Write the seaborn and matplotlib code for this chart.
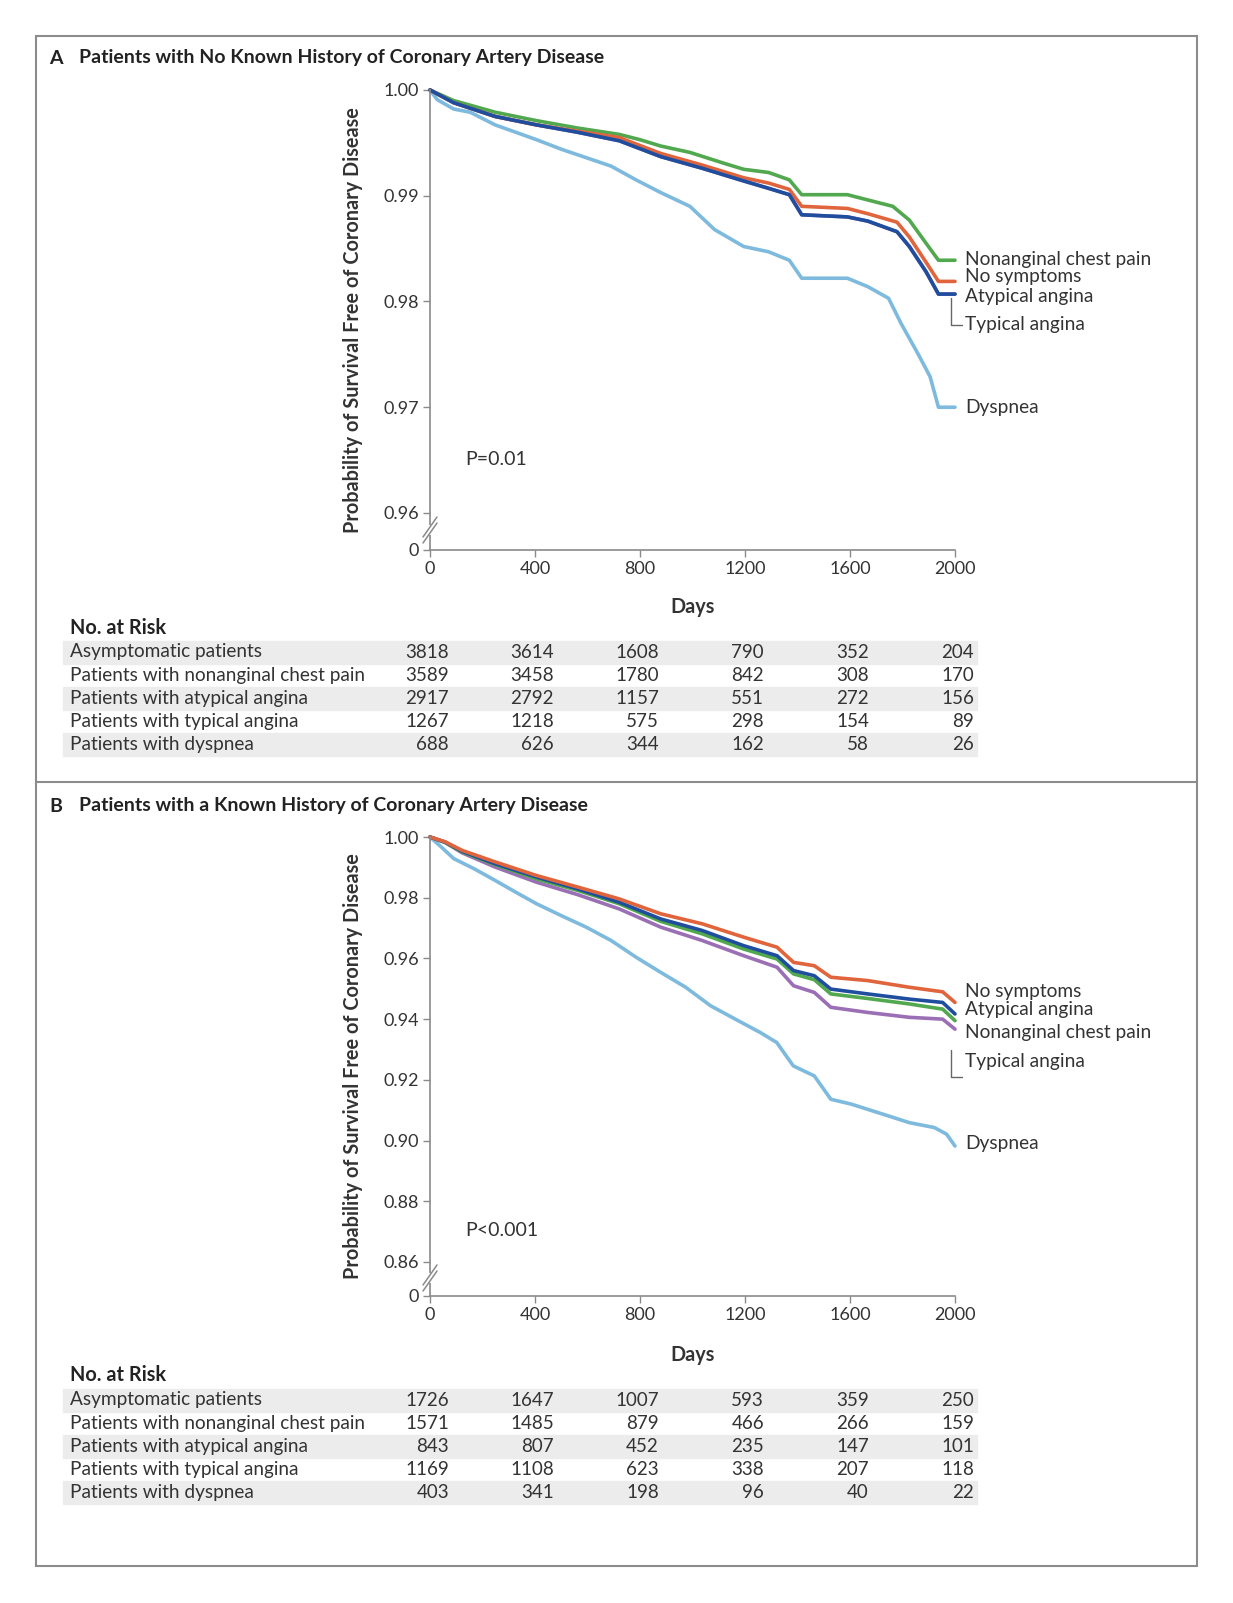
import pandas as pd
import matplotlib
matplotlib.use('Agg')
import matplotlib.pyplot as plt
import matplotlib.transforms as mtransforms
from matplotlib.patches import Rectangle
from matplotlib.lines import Line2D
import seaborn as sns

# ---- panel A curves (days, survival) ----
a_non_days = [0, 90, 248, 406, 563, 721, 800, 879, 990, 1116, 1195, 1290, 1369, 1416, 1590, 1668, 1763, 1826, 1890, 1937, 2000]
a_non_surv = [1.0, 0.9990, 0.9979, 0.9971, 0.9964, 0.9958, 0.9953, 0.9947, 0.9941, 0.9931, 0.9925, 0.9922, 0.9915, 0.9901,
              0.9901, 0.9896, 0.9890, 0.9877, 0.9855, 0.9839, 0.9839]
a_nosym_days = [0, 90, 248, 406, 563, 721, 879, 1037, 1195, 1290, 1369, 1416, 1590, 1668, 1779, 1826, 1890, 1937, 2000]
a_nosym_surv = [1.0, 0.9988, 0.9975, 0.9967, 0.9961, 0.9955, 0.9940, 0.9929, 0.9917, 0.9912, 0.9906, 0.9890, 0.9888,
                0.9883, 0.9875, 0.9861, 0.9837, 0.9819, 0.9819]
a_atyp_days = [0, 90, 248, 406, 563, 721, 879, 1037, 1195, 1290, 1369, 1416, 1590, 1668, 1779, 1826, 1890, 1937, 2000]
a_atyp_surv = [1.0, 0.9988, 0.9975, 0.9967, 0.9960, 0.9952, 0.9937, 0.9926, 0.9914, 0.9907, 0.9901, 0.9882, 0.9880,
               0.9876, 0.9866, 0.9852, 0.9828, 0.9807, 0.9807]
a_typ_days = [0, 90, 248, 406, 563, 721, 879, 1037, 1195, 1290, 1369, 1416, 1590, 1668, 1779, 1826, 1890, 1937, 2000]
a_typ_surv = [1.0, 0.9988, 0.9975, 0.9967, 0.9960, 0.9952, 0.9937, 0.9926, 0.9914, 0.9907, 0.9901, 0.9882, 0.9880,
              0.9876, 0.9866, 0.9852, 0.9828, 0.9807, 0.9807]
a_dys_days = [0, 27, 90, 153, 248, 327, 406, 500, 595, 690, 785, 879, 990, 1084, 1195, 1290, 1369, 1416, 1590, 1668,
              1747, 1795, 1858, 1905, 1937, 2000]
a_dys_surv = [1.0, 0.9991, 0.9982, 0.9979, 0.9967, 0.9960, 0.9953, 0.9944, 0.9936, 0.9928, 0.9915, 0.9903, 0.9890,
              0.9868, 0.9852, 0.9847, 0.9839, 0.9822, 0.9822, 0.9814, 0.9803, 0.9779, 0.9751, 0.9729, 0.9700, 0.9700]

# ---- panel B curves ----
b_days = [0, 58, 122, 248, 406, 563, 721, 879, 1037, 1195, 1322, 1385, 1464, 1527, 1668, 1826, 1953, 2000]
b_nosym_surv = [1.0, 0.9984, 0.9956, 0.9918, 0.9873, 0.9835, 0.9796, 0.9747, 0.9714, 0.9670, 0.9637, 0.9587, 0.9576,
                0.9538, 0.9527, 0.9505, 0.9490, 0.9455]
b_atyp_surv = [1.0, 0.9983, 0.9953, 0.9912, 0.9868, 0.9829, 0.9785, 0.9730, 0.9692, 0.9642, 0.9609, 0.9560, 0.9543,
               0.9499, 0.9483, 0.9466, 0.9455, 0.9417]
b_non_surv = [1.0, 0.9982, 0.9951, 0.9909, 0.9862, 0.9824, 0.9780, 0.9722, 0.9681, 0.9631, 0.9598, 0.9549, 0.9530,
              0.9483, 0.9468, 0.9450, 0.9433, 0.9395]
b_typ_surv = [1.0, 0.9982, 0.9948, 0.9901, 0.9851, 0.9810, 0.9763, 0.9703, 0.9659, 0.9609, 0.9571, 0.9510, 0.9488,
              0.9439, 0.9422, 0.9406, 0.9400, 0.9367]
b_dys_days = [0, 43, 90, 169, 248, 327, 406, 500, 595, 690, 785, 879, 974, 1069, 1163, 1258, 1321, 1384, 1464, 1527,
              1605, 1747, 1826, 1921, 1968, 2000]
b_dys_surv = [1.0, 0.9967, 0.9929, 0.9895, 0.9857, 0.9818, 0.9780, 0.9741, 0.9703, 0.9659, 0.9604, 0.9554, 0.9505,
              0.9444, 0.9400, 0.9356, 0.9323, 0.9246, 0.9213, 0.9136, 0.9120, 0.9081, 0.9059, 0.9043, 0.9021, 0.8982]

# ---- number at risk ----
risk_days = [0, 400, 800, 1200, 1600, 2000]
risk_rows = ['Asymptomatic patients', 'Patients with nonanginal chest pain', 'Patients with atypical angina',
             'Patients with typical angina', 'Patients with dyspnea']
risk_a = [[3818, 3614, 1608, 790, 352, 204],
          [3589, 3458, 1780, 842, 308, 170],
          [2917, 2792, 1157, 551, 272, 156],
          [1267, 1218, 575, 298, 154, 89],
          [688, 626, 344, 162, 58, 26]]
risk_b = [[1726, 1647, 1007, 593, 359, 250],
          [1571, 1485, 879, 466, 266, 159],
          [843, 807, 452, 235, 147, 101],
          [1169, 1108, 623, 338, 207, 118],
          [403, 341, 198, 96, 40, 22]]

colors = {'No symptoms': '#e0643c', 'Nonanginal chest pain': '#52a84e', 'Atypical angina': '#1f4e9e',
          'Typical angina': '#9b6fb5', 'Dyspnea': '#7dbade'}

sns.set_theme(style='ticks')
plt.rcParams['font.family'] = ['Lato', 'DejaVu Sans']
TXT = '#333333'
GREY = '#8a8a8a'

W, H = 1233, 1603
fig = plt.figure(figsize=(W / 100, H / 100), dpi=100)


def fx(px):
    return px / W


def fy(py):
    return 1 - py / H


def panel(letter, title, top, bottom, ylo, yticks, curves, labels, bracket, ptext, py, title_y, days_y, risk_y, row_y, risk):
    ax = fig.add_axes([fx(430), fy(bottom), fx(955) - fx(430), fy(top) - fy(bottom)])
    df = pd.concat([pd.DataFrame({'day': d, 'surv': s, 'group': n}) for n, d, s in curves])
    order = [n for n, _, _ in curves]
    sns.lineplot(data=df, x='day', y='surv', hue='group', hue_order=order, palette=colors, estimator=None,
                 sort=False, lw=2.6, legend=False, ax=ax, clip_on=False)
    ax.set_xlim(0, 2000)
    ax.set_ylim(ylo, 1.0)
    ax.set_xticks(risk_days)
    ax.set_yticks([ylo] + yticks)
    ax.set_yticklabels(['0'] + ['%.2f' % t for t in yticks])
    sns.despine(ax=ax)
    for s in ['left', 'bottom']:
        ax.spines[s].set_color(GREY)
        ax.spines[s].set_linewidth(1.2)
    ax.tick_params(direction='out', length=5, width=1, color=GREY, labelsize=13, labelcolor=TXT, pad=3)
    ax.set_xlabel('Days', fontsize=14.3, fontweight='bold', color=TXT)
    ax.xaxis.label.set_va('center')
    ax.xaxis.set_label_coords(0.501, -(days_y - bottom) / (bottom - top))
    ax.set_ylabel('Probability of Survival Free of Coronary Disease', fontsize=14.3, fontweight='bold', color=TXT)
    ax.yaxis.label.set_va('center')
    ax.yaxis.set_label_coords(-77 / 525, 0.5)

    # axis break marks
    bc = 20 / (bottom - top) if letter == 'A' else 18 / (bottom - top)
    dx, dy, g = 7 / 525, 10 / (bottom - top), 3 / (bottom - top)
    ax.plot([0, 0], [bc - g, bc + g], transform=ax.transAxes, color='white', lw=3, clip_on=False, zorder=5)
    for off in (-g, g):
        ax.plot([-dx, dx], [bc + off - dy, bc + off + dy], transform=ax.transAxes, color=GREY, lw=1.1,
                clip_on=False, zorder=6)

    for text, y in labels:
        ax.text(2038, y, text, fontsize=13.8, color=TXT, va='center', ha='left', clip_on=False)
    if bracket is not None:
        ax.plot([1985, 1985, 2025], bracket, color='#666666', lw=1, clip_on=False)
    ax.text(133, py, ptext, fontsize=14, color=TXT, va='center', ha='left')

    fig.text(fx(49), fy(title_y), letter, fontsize=14, fontweight='bold', color='#222222', va='center')
    fig.text(fx(79), fy(title_y), title, fontsize=14, fontweight='bold', color='#222222', va='center')

    fig.text(fx(70), fy(risk_y), 'No. at Risk', fontsize=14.3, fontweight='bold', color='#222222', va='center')
    trans = mtransforms.blended_transform_factory(ax.transData, fig.transFigure)
    trans = trans + mtransforms.ScaledTranslation(19 / 100, 0, fig.dpi_scale_trans)
    for i, (name, vals) in enumerate(zip(risk_rows, risk)):
        yc = row_y + i * 23.2
        if i % 2 == 0:
            fig.add_artist(Rectangle((fx(63), fy(yc + 11.5)), fx(977) - fx(63), 23 / H,
                                     transform=fig.transFigure, color='#ececec', zorder=0))
        fig.text(fx(70), fy(yc), name, fontsize=13.7, color=TXT, va='center', ha='left')
        for d, v in zip(risk_days, vals):
            fig.text(d, fy(yc), str(v), transform=trans, fontsize=13.5, color=TXT, va='center', ha='right')
    return ax


panel('A', 'Patients with No Known History of Coronary Artery Disease', 90, 550, 0.9565,
      [0.96, 0.97, 0.98, 0.99, 1.00],
      [('Typical angina', a_typ_days, a_typ_surv), ('Dyspnea', a_dys_days, a_dys_surv),
       ('Nonanginal chest pain', a_non_days, a_non_surv), ('No symptoms', a_nosym_days, a_nosym_surv),
       ('Atypical angina', a_atyp_days, a_atyp_surv)],
      [('Nonanginal chest pain', 0.98395), ('No symptoms', 0.98233), ('Atypical angina', 0.9805),
       ('Typical angina', 0.97779), ('Dyspnea', 0.96993)],
      [0.9803, 0.97779, 0.97779], 'P=0.01', 0.9651, 58, 607, 628, 652, risk_a)

panel('B', 'Patients with a Known History of Coronary Artery Disease', 837, 1296, 0.8488,
      [0.86, 0.88, 0.90, 0.92, 0.94, 0.96, 0.98, 1.00],
      [('Dyspnea', b_dys_days, b_dys_surv), ('Typical angina', b_days, b_typ_surv),
       ('Nonanginal chest pain', b_days, b_non_surv), ('Atypical angina', b_days, b_atyp_surv),
       ('No symptoms', b_days, b_nosym_surv)],
      [('No symptoms', 0.94926), ('Atypical angina', 0.94333), ('Nonanginal chest pain', 0.93575),
       ('Typical angina', 0.9259), ('Dyspnea', 0.89918)],
      [0.9298, 0.9209, 0.9209], 'P<0.001', 0.8703, 806, 1355, 1375, 1400, risk_b)

# frame and divider
fig.add_artist(Rectangle((fx(36), fy(1566)), fx(1197) - fx(36), (1566 - 36) / H, transform=fig.transFigure,
                         fill=False, edgecolor='#8c8c8c', lw=1.5))
fig.add_artist(Line2D([fx(36), fx(1197)], [fy(782), fy(782)], transform=fig.transFigure, color='#8c8c8c', lw=1.5))

fig.savefig('out.png', dpi=100, facecolor='white')
